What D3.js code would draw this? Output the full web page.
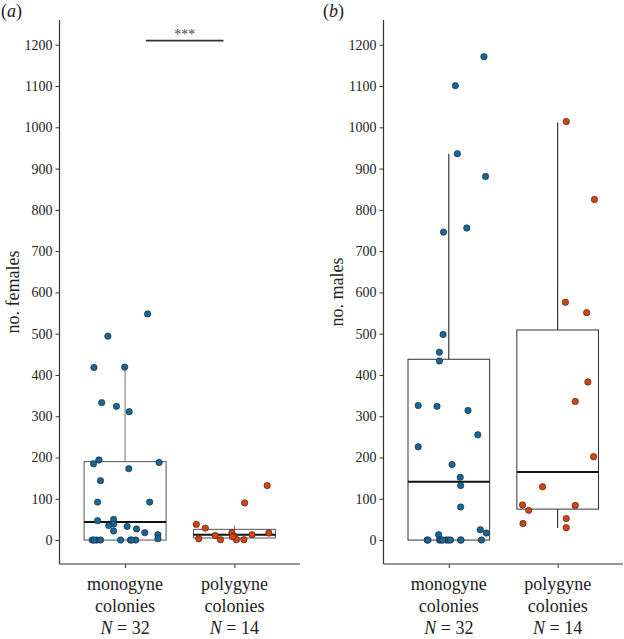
<!DOCTYPE html>
<html><head><meta charset="utf-8">
<script src="https://cdn.jsdelivr.net/npm/d3@7"></script>
<style>body{margin:0;background:#fff}svg{display:block}
svg text{font-family:"Liberation Serif","Times New Roman",Tinos,"Nimbus Roman","DejaVu Serif",serif !important;}
</style>
</head><body>
<svg id="c" width="624" height="639"></svg>
<script>
// ---- data ----
const categories = ["monogyne", "polygyne"];
const groupN = [32, 14];
const yTicks = [0,100,200,300,400,500,600,700,800,900,1000,1100,1200];

// panel (a): females
const femalesMono = [548,494,418,419,333,324,311,194,185,188,173,144,92,92,47,50,39,35,33,27,22,18,13,3,0,0,0,0,0,0,0,0];
const femalesMonoJitter = [0.55,-0.42,-0.76,-0.01,-0.57,-0.21,0.10,-0.64,-0.77,0.83,0.09,-0.60,-0.67,0.60,-0.67,-0.28,-0.28,-0.40,0.05,0.28,-0.28,0.48,0.80,0.80,-0.80,-0.70,-0.60,-0.11,0.13,0.26,-0.76,0.16];
const femalesPoly = [132,90,38,29,18,11,9,13,17,3,1,1,1,8];
const femalesPolyJitter = [0.80,0.25,-0.93,-0.71,-0.06,-0.47,0.0,0.43,0.84,-0.87,-0.34,0.05,0.23,-0.05];
// box stats: [whiskerLow, q1, median, q3, whiskerHigh]
const femalesMonoBox = [0, 0, 44, 190, 419];
const femalesPolyBox = [0, 5, 13, 26, 36];

// panel (b): males
const malesMono = [1171,1101,936,881,756,746,498,455,434,326,324,314,255,226,183,152,132,80,25,17,13,0,0,0,0,0,0,0,0,0,0,0];
const malesMonoJitter = [0.86,0.16,0.21,0.90,0.44,-0.13,-0.14,-0.23,-0.23,-0.75,-0.29,0.47,0.71,-0.75,0.08,0.28,0.29,0.29,0.77,0.92,-0.25,-0.53,-0.23,-0.19,-0.06,-0.01,0.04,0.29,0.80,-0.51,-0.15,0.30];
const malesPoly = [1014,825,576,551,383,336,202,129,85,72,84,52,40,30];
const malesPolyJitter = [0.21,0.90,0.19,0.71,0.74,0.43,0.88,-0.37,-0.86,-0.71,0.43,0.21,-0.85,0.21];
const malesMonoBox = [0, 0, 141, 438, 936];
const malesPolyBox = [29, 75, 165, 509, 1012];

const colors = ["#13679b", "#d7420e"];

// ---- drawing ----
const svg = d3.select("#c");
const font = "'Liberation Serif','Times New Roman',serif";

const y = d3.scaleLinear().domain([-58, 1260]).range([564, 20]);

function panel(opts){
  const g = svg.append("g");
  const x = d3.scalePoint().domain(categories).range([opts.x0, opts.x1]).padding(0.6);
  const bw = x.step()*0.75;
  // y axis
  const yAx = d3.axisLeft(y).tickValues(yTicks).tickFormat(d3.format("d")).tickSize(4).tickPadding(3).tickSizeOuter(0);
  const ya = g.append("g").attr("transform",`translate(${opts.x0},0)`).call(yAx);
  ya.select(".domain").remove();
  ya.selectAll("line").attr("stroke","#333");
  ya.selectAll("text").attr("font-family",font).attr("font-size",14).attr("fill","#222");
  g.append("line").attr("x1",opts.x0).attr("x2",opts.x0).attr("y1",20).attr("y2",564).attr("stroke","#333").attr("stroke-width",1.2);
  // x axis
  const xAx = d3.axisBottom(x).tickSize(4).tickFormat("").tickSizeOuter(0);
  const xa = g.append("g").attr("transform","translate(0,564)").call(xAx);
  xa.select(".domain").remove();
  xa.selectAll("line").attr("stroke","#333");
  g.append("line").attr("x1",opts.x0).attr("x2",opts.x1).attr("y1",564).attr("y2",564).attr("stroke","#333").attr("stroke-width",1.2);
  // category labels
  categories.forEach((c,i)=>{
    const cx = x(c);
    const t = g.append("text").attr("x",cx).attr("y",590).attr("text-anchor","middle")
      .attr("font-family",font).attr("font-size",18).attr("fill","#222");
    t.append("tspan").attr("x",cx).text(c);
    t.append("tspan").attr("x",cx).attr("dy",22).text("colonies");
    const t3 = t.append("tspan").attr("x",cx).attr("dy",22);
    t3.append("tspan").attr("font-style","italic").text("N");
    t3.append("tspan").text(" = " + groupN[i]);
  });
  // y label
  g.append("text").attr("transform",`translate(${opts.labelX},292) rotate(-90)`)
    .attr("text-anchor","middle").attr("font-family",font).attr("font-size",18).attr("fill","#222")
    .text(opts.ylabel);
  // panel letter
  const pl = g.append("text").attr("x",opts.letterX).attr("y",17).attr("font-family",font).attr("font-size",18).attr("fill","#222");
  pl.append("tspan").text("(");
  pl.append("tspan").attr("font-style","italic").text(opts.letter);
  pl.append("tspan").text(")");
  // boxes
  opts.boxes.forEach((b,i)=>{
    const cx = x(categories[i]);
    g.append("line").attr("x1",cx).attr("x2",cx).attr("y1",y(b[3])).attr("y2",y(b[4])).attr("stroke",opts.whiskerColor).attr("stroke-width",1);
    g.append("line").attr("x1",cx).attr("x2",cx).attr("y1",y(b[1])).attr("y2",y(b[0])).attr("stroke",opts.whiskerColor).attr("stroke-width",1);
    g.append("rect").attr("x",cx-bw/2).attr("width",bw).attr("y",y(b[3])).attr("height",y(b[1])-y(b[3]))
      .attr("fill","none").attr("stroke",opts.boxColor).attr("stroke-width",1);
    g.append("line").attr("x1",cx-bw/2).attr("x2",cx+bw/2).attr("y1",y(b[2])).attr("y2",y(b[2])).attr("stroke","#111").attr("stroke-width",2);
  });
  // points
  opts.points.forEach((p,i)=>{
    const cx = x(categories[i]);
    g.selectAll(null).data(p.values).enter().append("circle")
      .attr("cx",(d,j)=>cx + p.jitter[j]*bw/2)
      .attr("cy",d=>y(d))
      .attr("r",3.2)
      .attr("fill",colors[i]).attr("stroke","#222").attr("stroke-width",0.6);
  });
  return x;
}

const xa = panel({x0:59.5, x1:300, ylabel:"no. females", labelX:19, letter:"a", letterX:1,
  whiskerColor:"#777", boxColor:"#555",
  boxes:[femalesMonoBox, femalesPolyBox],
  points:[{values:femalesMono, jitter:femalesMonoJitter},{values:femalesPoly, jitter:femalesPolyJitter}]});

panel({x0:383.5, x1:623, ylabel:"no. males", labelX:343, letter:"b", letterX:323,
  whiskerColor:"#111", boxColor:"#333",
  boxes:[malesMonoBox, malesPolyBox],
  points:[{values:malesMono, jitter:malesMonoJitter},{values:malesPoly, jitter:malesPolyJitter}]});

// significance bar (panel a)
const sigY = y(1210);
const c0 = xa(categories[0]), c1 = xa(categories[1]);
const sx0 = c0 + (c1-c0)*0.19, sx1 = c0 + (c1-c0)*0.90;
svg.append("line").attr("x1",sx0).attr("x2",sx1).attr("y1",sigY).attr("y2",sigY).attr("stroke","#333").attr("stroke-width",1.6);
svg.append("text").attr("x",(sx0+sx1)/2).attr("y",sigY-2).attr("text-anchor","middle")
  .attr("font-family",font).attr("font-size",14).attr("fill","#444").text("***");
</script>
</body></html>
